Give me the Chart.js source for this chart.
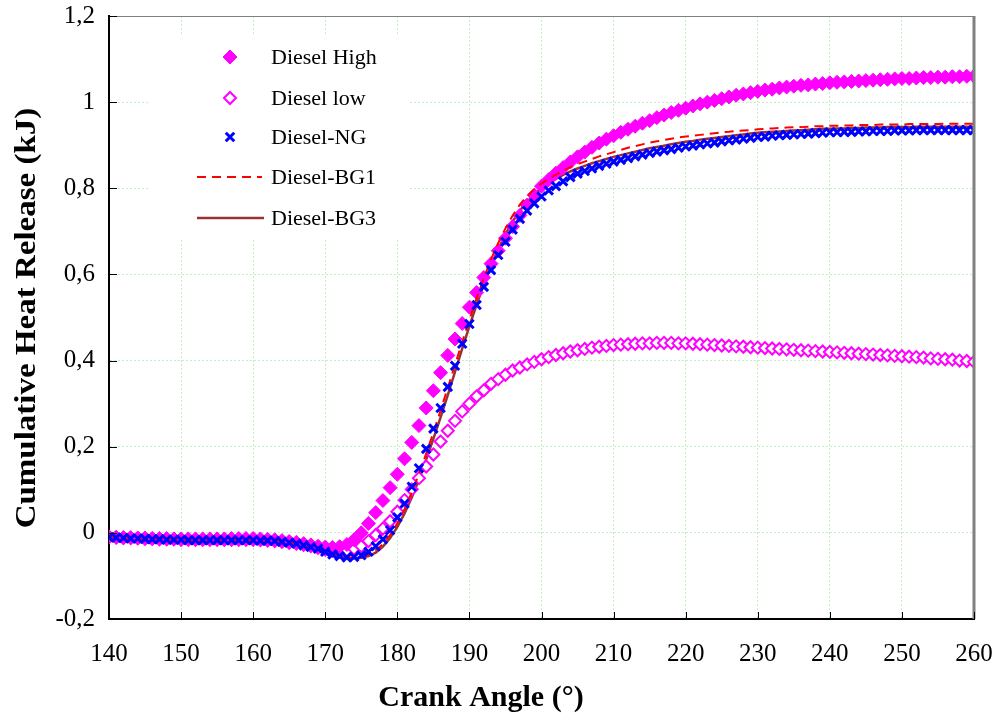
<!DOCTYPE html>
<html>
<head>
<meta charset="utf-8">
<script src="https://cdn.jsdelivr.net/npm/chart.js@4.4.1/dist/chart.umd.min.js"></script>
<style>
  html, body { margin: 0; padding: 0; background: #fff; }
  #wrap { width: 998px; height: 720px; }
</style>
</head>
<body>
<div id="wrap"><canvas id="heatChart" width="998" height="720"></canvas></div>
<script>
'use strict'

// crank angle, one point per degree
const angles = [];
for (let a = 140; a <= 260; a++) angles.push(a);

const yTicks = [-0.2, 0, 0.2, 0.4, 0.6, 0.8, 1, 1.2];
const xTicks = [140, 150, 160, 170, 180, 190, 200, 210, 220, 230, 240, 250, 260];

const dieselHigh = [
  -0.009, -0.010, -0.011, -0.011, -0.012, -0.012, -0.013, -0.013, -0.013, -0.014,
  -0.014, -0.014, -0.014, -0.014, -0.014, -0.014, -0.014, -0.013, -0.013, -0.013,
  -0.013, -0.014, -0.015, -0.016, -0.018, -0.020, -0.022, -0.025, -0.028, -0.031,
  -0.033, -0.034, -0.032, -0.027, -0.016, 0.000, 0.022, 0.047, 0.075, 0.105,
  0.136, 0.172, 0.210, 0.249, 0.290, 0.330, 0.372, 0.412, 0.450, 0.486,
  0.524, 0.558, 0.593, 0.625, 0.655, 0.684, 0.711, 0.737, 0.761, 0.784,
  0.805, 0.820, 0.835, 0.848, 0.861, 0.873, 0.884, 0.895, 0.905, 0.914,
  0.922, 0.930, 0.937, 0.944, 0.951, 0.957, 0.964, 0.970, 0.976, 0.981,
  0.986, 0.991, 0.996, 1.000, 1.004, 1.008, 1.012, 1.016, 1.019, 1.022,
  1.025, 1.028, 1.030, 1.033, 1.035, 1.037, 1.039, 1.040, 1.042, 1.043,
  1.045, 1.046, 1.047, 1.048, 1.049, 1.050, 1.051, 1.052, 1.053, 1.054,
  1.055, 1.055, 1.056, 1.057, 1.057, 1.058, 1.058, 1.059, 1.059, 1.060,
  1.060
];

const dieselLow = [
  -0.010, -0.011, -0.012, -0.012, -0.013, -0.014, -0.014, -0.015, -0.015, -0.015,
  -0.016, -0.016, -0.016, -0.016, -0.016, -0.016, -0.016, -0.016, -0.016, -0.016,
  -0.016, -0.017, -0.018, -0.019, -0.021, -0.023, -0.025, -0.028, -0.031, -0.035,
  -0.039, -0.042, -0.043, -0.041, -0.037, -0.031, -0.019, -0.005, 0.010, 0.027,
  0.049, 0.076, 0.101, 0.127, 0.154, 0.182, 0.212, 0.237, 0.260, 0.282,
  0.300, 0.317, 0.331, 0.346, 0.357, 0.367, 0.377, 0.384, 0.391, 0.397,
  0.403, 0.408, 0.413, 0.417, 0.421, 0.424, 0.427, 0.430, 0.432, 0.434,
  0.436, 0.437, 0.438, 0.439, 0.440, 0.440, 0.441, 0.441, 0.441, 0.440,
  0.440, 0.439, 0.438, 0.437, 0.436, 0.435, 0.434, 0.433, 0.432, 0.431,
  0.430, 0.429, 0.428, 0.427, 0.426, 0.425, 0.424, 0.423, 0.422, 0.421,
  0.420, 0.419, 0.418, 0.417, 0.416, 0.415, 0.414, 0.413, 0.412, 0.411,
  0.410, 0.409, 0.408, 0.407, 0.405, 0.404, 0.403, 0.402, 0.400, 0.399,
  0.397
];

const dieselNG = [
  -0.010, -0.011, -0.012, -0.013, -0.013, -0.014, -0.015, -0.015, -0.016, -0.016,
  -0.016, -0.017, -0.017, -0.017, -0.017, -0.017, -0.017, -0.017, -0.017, -0.017,
  -0.017, -0.018, -0.018, -0.019, -0.021, -0.023, -0.025, -0.029, -0.033, -0.037,
  -0.044, -0.050, -0.054, -0.057, -0.056, -0.052, -0.044, -0.031, -0.015, 0.006,
  0.036, 0.068, 0.107, 0.150, 0.195, 0.242, 0.290, 0.339, 0.388, 0.439,
  0.485, 0.529, 0.571, 0.610, 0.645, 0.676, 0.704, 0.729, 0.748, 0.765,
  0.781, 0.795, 0.805, 0.816, 0.826, 0.834, 0.840, 0.846, 0.852, 0.857,
  0.862, 0.866, 0.870, 0.874, 0.878, 0.882, 0.885, 0.888, 0.891, 0.894,
  0.897, 0.899, 0.902, 0.904, 0.906, 0.909, 0.911, 0.913, 0.915, 0.917,
  0.919, 0.920, 0.922, 0.923, 0.924, 0.925, 0.926, 0.927, 0.928, 0.929,
  0.930, 0.930, 0.931, 0.931, 0.932, 0.932, 0.933, 0.933, 0.933, 0.934,
  0.934, 0.934, 0.935, 0.935, 0.935, 0.935, 0.935, 0.935, 0.935, 0.935,
  0.935
];

const dieselBG1 = [
  -0.010, -0.011, -0.012, -0.013, -0.013, -0.014, -0.015, -0.015, -0.016, -0.016,
  -0.016, -0.017, -0.017, -0.017, -0.017, -0.017, -0.017, -0.017, -0.017, -0.017,
  -0.017, -0.018, -0.018, -0.019, -0.021, -0.023, -0.026, -0.030, -0.034, -0.039,
  -0.045, -0.050, -0.054, -0.057, -0.058, -0.056, -0.050, -0.040, -0.026, -0.005,
  0.022, 0.055, 0.094, 0.137, 0.184, 0.233, 0.284, 0.337, 0.390, 0.443,
  0.495, 0.545, 0.592, 0.635, 0.673, 0.707, 0.737, 0.762, 0.782, 0.798,
  0.811, 0.822, 0.832, 0.841, 0.849, 0.856, 0.862, 0.868, 0.874, 0.879,
  0.884, 0.889, 0.894, 0.898, 0.902, 0.906, 0.909, 0.912, 0.915, 0.918,
  0.920, 0.922, 0.924, 0.926, 0.928, 0.930, 0.931, 0.933, 0.934, 0.935,
  0.937, 0.938, 0.939, 0.940, 0.941, 0.942, 0.942, 0.943, 0.944, 0.944,
  0.945, 0.945, 0.946, 0.946, 0.947, 0.947, 0.947, 0.948, 0.948, 0.948,
  0.948, 0.949, 0.949, 0.949, 0.949, 0.949, 0.950, 0.950, 0.950, 0.950,
  0.950
];

const dieselBG3 = [
  -0.010, -0.011, -0.012, -0.013, -0.013, -0.014, -0.015, -0.015, -0.016, -0.016,
  -0.016, -0.017, -0.017, -0.017, -0.017, -0.017, -0.017, -0.017, -0.017, -0.017,
  -0.017, -0.018, -0.018, -0.019, -0.021, -0.023, -0.026, -0.030, -0.034, -0.039,
  -0.045, -0.051, -0.055, -0.058, -0.059, -0.058, -0.054, -0.046, -0.032, -0.012,
  0.014, 0.045, 0.082, 0.124, 0.170, 0.218, 0.268, 0.320, 0.374, 0.428,
  0.480, 0.530, 0.577, 0.620, 0.659, 0.693, 0.723, 0.748, 0.769, 0.786,
  0.800, 0.812, 0.822, 0.831, 0.839, 0.846, 0.852, 0.858, 0.863, 0.868,
  0.873, 0.877, 0.881, 0.885, 0.889, 0.893, 0.896, 0.899, 0.902, 0.905,
  0.908, 0.910, 0.913, 0.915, 0.917, 0.919, 0.921, 0.923, 0.925, 0.927,
  0.929, 0.930, 0.931, 0.932, 0.933, 0.934, 0.935, 0.936, 0.937, 0.938,
  0.938, 0.939, 0.939, 0.940, 0.940, 0.941, 0.941, 0.941, 0.942, 0.942,
  0.942, 0.942, 0.943, 0.943, 0.943, 0.943, 0.943, 0.943, 0.943, 0.943,
  0.943
];

const seriesNames = ['Diesel High', 'Diesel low', 'Diesel-NG', 'Diesel-BG1', 'Diesel-BG3'];

function pts(values) {
  return values.map((v, i) => ({ x: angles[i], y: v }));
}

const MAGENTA = '#ff00ff';
const BLUE = '#0000ff';
const RED = '#ff0000';
const BROWN = '#993333';
const SERIF = '"Liberation Serif", "Times New Roman", serif';

function commaNum(v) {
  let s = (Math.round(v * 10) / 10).toString();
  return s.replace('.', ',');
}

// white box behind the legend, drawn over the grid
const legendBox = {
  id: 'legendBox',
  beforeDatasetsDraw(chart) {
    const ctx = chart.ctx;
    ctx.save();
    ctx.fillStyle = '#fff';
    ctx.fillRect(150, 36, 258, 202);
    ctx.restore();
  },
  afterDraw(chart) {
    const ctx = chart.ctx;
    const area = chart.chartArea;
    const xs = chart.scales.x, ys = chart.scales.y;
    ctx.save();

    // top and right frame
    ctx.strokeStyle = '#808080';
    ctx.lineWidth = 1;
    ctx.beginPath();
    ctx.moveTo(area.left, area.top + 0.5);
    ctx.lineTo(area.right, area.top + 0.5);
    ctx.stroke();
    ctx.lineWidth = 3;
    ctx.beginPath();
    ctx.moveTo(area.right, area.top);
    ctx.lineTo(area.right, area.bottom);
    ctx.stroke();

    // inward ticks
    ctx.strokeStyle = '#000';
    ctx.lineWidth = 1;
    ctx.beginPath();
    xTicks.forEach(t => {
      const px = Math.round(xs.getPixelForValue(t)) + 0.5;
      ctx.moveTo(px, area.bottom);
      ctx.lineTo(px, area.bottom - 7);
    });
    yTicks.forEach(t => {
      const py = Math.round(ys.getPixelForValue(t)) + 0.5;
      ctx.moveTo(area.left, py);
      ctx.lineTo(area.left + 8, py);
    });
    ctx.stroke();

    // legend
    const rows = [57, 98, 137, 177, 218];
    const symX = 230, textX = 271;
    ctx.font = '22px ' + SERIF;
    ctx.fillStyle = '#000';
    ctx.textBaseline = 'middle';
    ctx.textAlign = 'left';
    seriesNames.forEach((n, i) => ctx.fillText(n, textX, rows[i] + 1));

    ctx.fillStyle = MAGENTA;
    ctx.strokeStyle = MAGENTA;
    Chart.helpers.drawPoint(ctx, { pointStyle: 'rectRot', radius: 7, borderWidth: 1, rotation: 0 }, symX, rows[0]);
    ctx.fillStyle = '#fff';
    ctx.lineWidth = 2;
    Chart.helpers.drawPoint(ctx, { pointStyle: 'rectRot', radius: 6, borderWidth: 2, rotation: 0 }, symX, rows[1]);
    ctx.strokeStyle = BLUE;
    ctx.lineWidth = 3;
    Chart.helpers.drawPoint(ctx, { pointStyle: 'crossRot', radius: 6, borderWidth: 3, rotation: 0 }, symX, rows[2]);

    ctx.lineWidth = 2;
    ctx.strokeStyle = RED;
    ctx.setLineDash([9, 6]);
    ctx.beginPath();
    ctx.moveTo(197, rows[3]);
    ctx.lineTo(262, rows[3]);
    ctx.stroke();
    ctx.setLineDash([]);
    ctx.strokeStyle = BROWN;
    ctx.lineWidth = 2.5;
    ctx.beginPath();
    ctx.moveTo(197, rows[4]);
    ctx.lineTo(264, rows[4]);
    ctx.stroke();

    // axis titles
    ctx.fillStyle = '#000';
    ctx.font = 'bold 30px ' + SERIF;
    ctx.textAlign = 'center';
    ctx.fillText('Crank Angle (°)', 481, 698);
    ctx.translate(27, 318);
    ctx.rotate(-Math.PI / 2);
    ctx.scale(1.1, 1);
    ctx.fillText('Cumulative Heat Release (kJ)', 0, 0);
    ctx.restore();
  }
};

const ctx = document.getElementById('heatChart').getContext('2d');
new Chart(ctx, {
  type: 'scatter',
  data: {
    datasets: [
      {
        label: seriesNames[2], data: pts(dieselNG), showLine: false, order: 0,
        pointStyle: 'crossRot', pointRadius: 6, pointBorderWidth: 3,
        borderColor: BLUE, backgroundColor: BLUE
      },
      {
        label: seriesNames[0], data: pts(dieselHigh), showLine: false, order: 2,
        pointStyle: 'rectRot', pointRadius: 7, pointBorderWidth: 1,
        borderColor: MAGENTA, backgroundColor: MAGENTA
      },
      {
        label: seriesNames[1], data: pts(dieselLow), showLine: false, order: 3,
        pointStyle: 'rectRot', pointRadius: 6, pointBorderWidth: 2,
        borderColor: MAGENTA, backgroundColor: '#fff'
      },
      {
        label: seriesNames[3], data: pts(dieselBG1), showLine: true, order: 1,
        pointRadius: 0, borderColor: RED, borderWidth: 2, borderDash: [9, 6], tension: 0
      },
      {
        label: seriesNames[4], data: pts(dieselBG3), showLine: true, order: 4,
        pointRadius: 0, borderColor: BROWN, borderWidth: 2.5, tension: 0
      }
    ]
  },
  options: {
    responsive: false,
    animation: false,
    layout: { padding: { left: 0, right: 24, top: 16, bottom: 0 } },
    plugins: {
      legend: { display: false },
      tooltip: { enabled: false }
    },
    scales: {
      x: {
        type: 'linear', min: 140, max: 260,
        afterFit(scale) {
          scale.height = 101;
          scale.paddingLeft = 0;
          scale.paddingRight = 0;
        },
        afterBuildTicks(scale) { scale.ticks = xTicks.map(v => ({ value: v })); },
        ticks: {
          padding: 20, color: '#000',
          font: { family: SERIF, size: 25 },
          callback: v => String(v)
        },
        grid: { color: 'rgba(120,220,120,0.45)', lineWidth: 1, drawTicks: false },
        border: { color: '#000', width: 2, dash: [2, 2] }
      },
      y: {
        min: -0.2, max: 1.2,
        afterFit(scale) {
          scale.width = 109;
          scale.paddingTop = 0;
          scale.paddingBottom = 0;
        },
        afterBuildTicks(scale) { scale.ticks = yTicks.map(v => ({ value: v })); },
        ticks: {
          padding: 14, color: '#000',
          font: { family: SERIF, size: 25 },
          callback: v => commaNum(v)
        },
        grid: { color: 'rgba(120,220,120,0.45)', lineWidth: 1, drawTicks: false },
        border: { color: '#000', width: 2, dash: [2, 2] }
      }
    }
  },
  plugins: [legendBox]
});
</script>
</body>
</html>
